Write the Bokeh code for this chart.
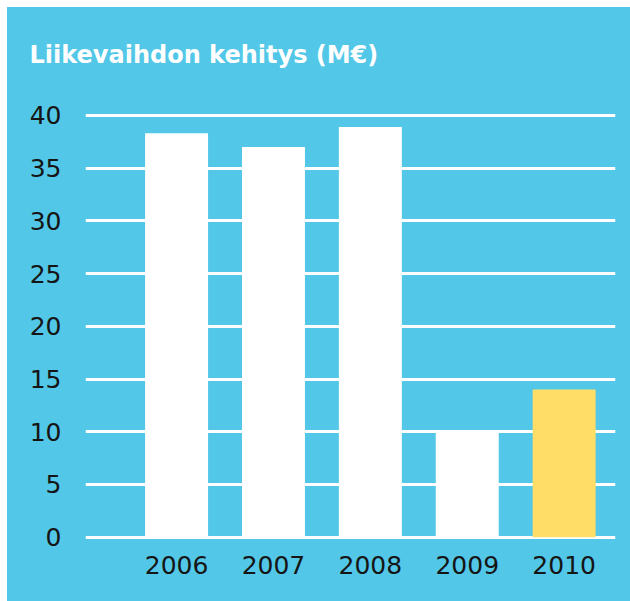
from bokeh.plotting import figure
from bokeh.models import Range1d, FixedTicker, ColumnDataSource, Title
from bokeh.embed import file_html
from bokeh.resources import INLINE

years = ["2006", "2007", "2008", "2009", "2010"]
revenue = [38.3, 37.0, 38.9, 10.0, 14.0]
bar_colors = ["#FFFFFF", "#FFFFFF", "#FFFFFF", "#FFFFFF", "#FFDD66"]
y_ticks = [0, 5, 10, 15, 20, 25, 30, 35, 40]
title_text = "Liikevaihdon kehitys (M€)"

BG = "#52C7E7"
positions = list(range(len(years)))
src = ColumnDataSource(dict(x=positions, top=revenue, color=bar_colors))

p = figure(width=623, height=594, output_backend="svg", toolbar_location=None,
           x_range=Range1d(-0.94, 4.53), y_range=Range1d(-0.5, 41.5),
           min_border_left=78, min_border_right=15, min_border_bottom=59,
           min_border_top=92)
p.margin = (7, 0, 0, 7)
p.styles = {"background-color": BG}
p.background_fill_color = BG
p.border_fill_color = BG
p.outline_line_color = None

# main title (outermost in the "above" panel)
p.title.text = title_text
p.title.text_color = "white"
p.title.text_font = "DejaVu Sans"
p.title.text_font_style = "bold"
p.title.text_font_size = "24px"
p.title.align = "left"
p.title.offset = -56
p.title.standoff = 0

# spacer between the title and the plot frame (drawn in the background colour)
spacer = Title(text=".", text_color=BG, text_font="DejaVu Sans",
               text_font_size="24px", standoff=11, align="right")
p.add_layout(spacer, "above")

p.vbar(x="x", top="top", bottom=0, width=0.65, fill_color="color", line_color=None, source=src)

p.xgrid.grid_line_color = None
p.ygrid.ticker = FixedTicker(ticks=y_ticks)
p.ygrid.grid_line_color = "white"
p.ygrid.grid_line_width = 3

p.yaxis.ticker = FixedTicker(ticks=y_ticks)
p.xaxis.ticker = FixedTicker(ticks=positions)
p.xaxis.major_label_overrides = {i: y for i, y in enumerate(years)}
for ax in (p.xaxis[0], p.yaxis[0]):
    ax.axis_line_color = None
    ax.major_tick_line_color = None
    ax.minor_tick_line_color = None
    ax.major_label_text_font = "DejaVu Sans"
    ax.major_label_text_font_size = "25px"
    ax.major_label_text_color = "#151515"
p.yaxis.major_label_standoff = 18
p.xaxis.major_label_standoff = 7

open("out.html", "w").write(file_html(p, INLINE))
